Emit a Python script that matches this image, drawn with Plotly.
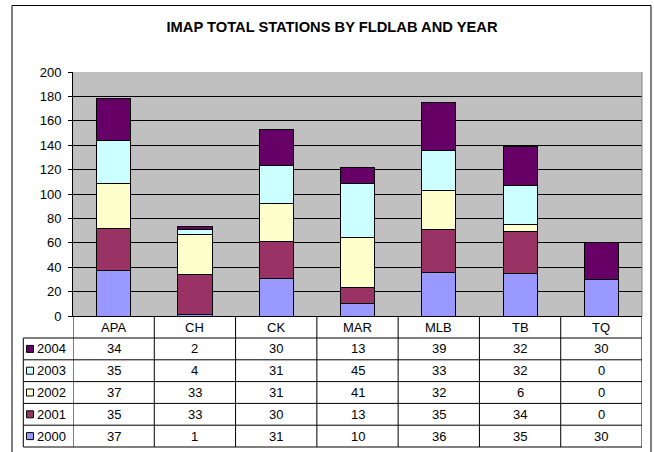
import plotly.graph_objects as go

categories = ["APA", "CH", "CK", "MAR", "MLB", "TB", "TQ"]
years = ["2000", "2001", "2002", "2003", "2004"]
v2000 = [37, 1, 31, 10, 36, 35, 30]
v2001 = [35, 33, 30, 13, 35, 34, 0]
v2002 = [37, 33, 31, 41, 32, 6, 0]
v2003 = [35, 4, 31, 45, 33, 32, 0]
v2004 = [34, 2, 30, 13, 39, 32, 30]
series = {"2000": v2000, "2001": v2001, "2002": v2002, "2003": v2003, "2004": v2004}
colors = {"2000": "#9999FF", "2001": "#993366", "2002": "#FFFFCC",
          "2003": "#CCFFFF", "2004": "#660066"}
title = "IMAP TOTAL STATIONS BY FLDLAB AND YEAR"

FONT = "Liberation Sans, Arial, sans-serif"
W, H = 654, 452
L, R, T, B = 73, 12, 72, 136
pw = W - L - R
ph = H - T - B


def px(x):
    return (x - L) / pw


def py(y):
    return (H - B - y) / ph


fig = go.Figure()
for yr in years:
    fig.add_trace(go.Bar(
        x=categories, y=series[yr], name=yr,
        marker=dict(color=colors[yr], line=dict(color="black", width=1)),
        width=0.42, showlegend=False,
    ))

shapes = []
annotations = []

# outer chart frame
shapes.append(dict(type="rect", xref="paper", yref="paper",
                   x0=px(12), x1=px(651), y0=py(470), y1=py(5.5),
                   line=dict(color="black", width=1), fillcolor="rgba(0,0,0,0)",
                   layer="above"))
# plot area right border
shapes.append(dict(type="line", xref="paper", yref="paper",
                   x0=1, x1=1, y0=0, y1=1, line=dict(color="#808080", width=1)))

# data table geometry
header_top, header_bot = 316, 338
table_bot = 447
n_rows = len(years)
row_h = (table_bot - header_bot) / n_rows
leg_left = 23.3

for i in range(len(categories) + 1):
    shapes.append(dict(type="line", xref="x", yref="paper",
                       x0=i - 0.5, x1=i - 0.5, y0=py(table_bot), y1=py(header_top),
                       line=dict(color="black", width=1)))
shapes.append(dict(type="line", xref="paper", yref="paper",
                   x0=px(leg_left), x1=px(leg_left), y0=py(table_bot), y1=py(header_bot),
                   line=dict(color="black", width=1)))
for k in range(n_rows + 1):
    yy = header_bot + k * row_h
    shapes.append(dict(type="line", xref="paper", yref="paper",
                       x0=px(leg_left), x1=1, y0=py(yy), y1=py(yy),
                       line=dict(color="black", width=1)))

for c in categories:
    annotations.append(dict(x=c, xref="x", y=py((header_top + header_bot) / 2), yref="paper",
                            text=c, showarrow=False, xanchor="center", yanchor="middle",
                            font=dict(family=FONT, size=13, color="black")))

for k, yr in enumerate(reversed(years)):
    yc = header_bot + (k + 0.5) * row_h
    for c, v in zip(categories, series[yr]):
        annotations.append(dict(x=c, xref="x", y=py(yc), yref="paper",
                                text=str(v), showarrow=False, xanchor="center", yanchor="middle",
                                font=dict(family=FONT, size=13, color="black")))
    shapes.append(dict(type="rect", xref="paper", yref="paper",
                       x0=px(26.5), x1=px(33.5), y0=py(yc + 3.5), y1=py(yc - 3.5),
                       fillcolor=colors[yr], line=dict(color="black", width=1)))
    annotations.append(dict(x=px(34.5), xref="paper", y=py(yc), yref="paper",
                            text=yr, showarrow=False, xanchor="left", yanchor="middle",
                            font=dict(family=FONT, size=13, color="black")))

fig.update_layout(
    width=W, height=H,
    margin=dict(l=L, r=R, t=T, b=B, pad=0),
    barmode="stack",
    paper_bgcolor="white",
    plot_bgcolor="#C0C0C0",
    title=dict(text="<b>" + title + "</b>", x=332 / W, xref="container", xanchor="center",
               y=1 - 27 / H, yref="container", yanchor="middle",
               font=dict(family=FONT, size=14.7, color="black")),
    xaxis=dict(type="category", range=[-0.5, len(categories) - 0.5], showticklabels=False,
               showgrid=False, showline=True, linecolor="black", linewidth=1, ticks="",
               zeroline=False, fixedrange=True),
    yaxis=dict(range=[0, 200], dtick=20, showline=True, linecolor="black", linewidth=1,
               ticks="outside", ticklen=4, tickcolor="black", showgrid=True,
               gridcolor="black", gridwidth=1, zeroline=False, ticklabelstandoff=4,
               tickfont=dict(family=FONT, size=13, color="black"), fixedrange=True),
    shapes=shapes,
    annotations=annotations,
    showlegend=False,
)

fig.write_html("out.html", config={"displayModeBar": False},
               post_script="document.body.style.margin='0';document.body.style.overflow='hidden';")
